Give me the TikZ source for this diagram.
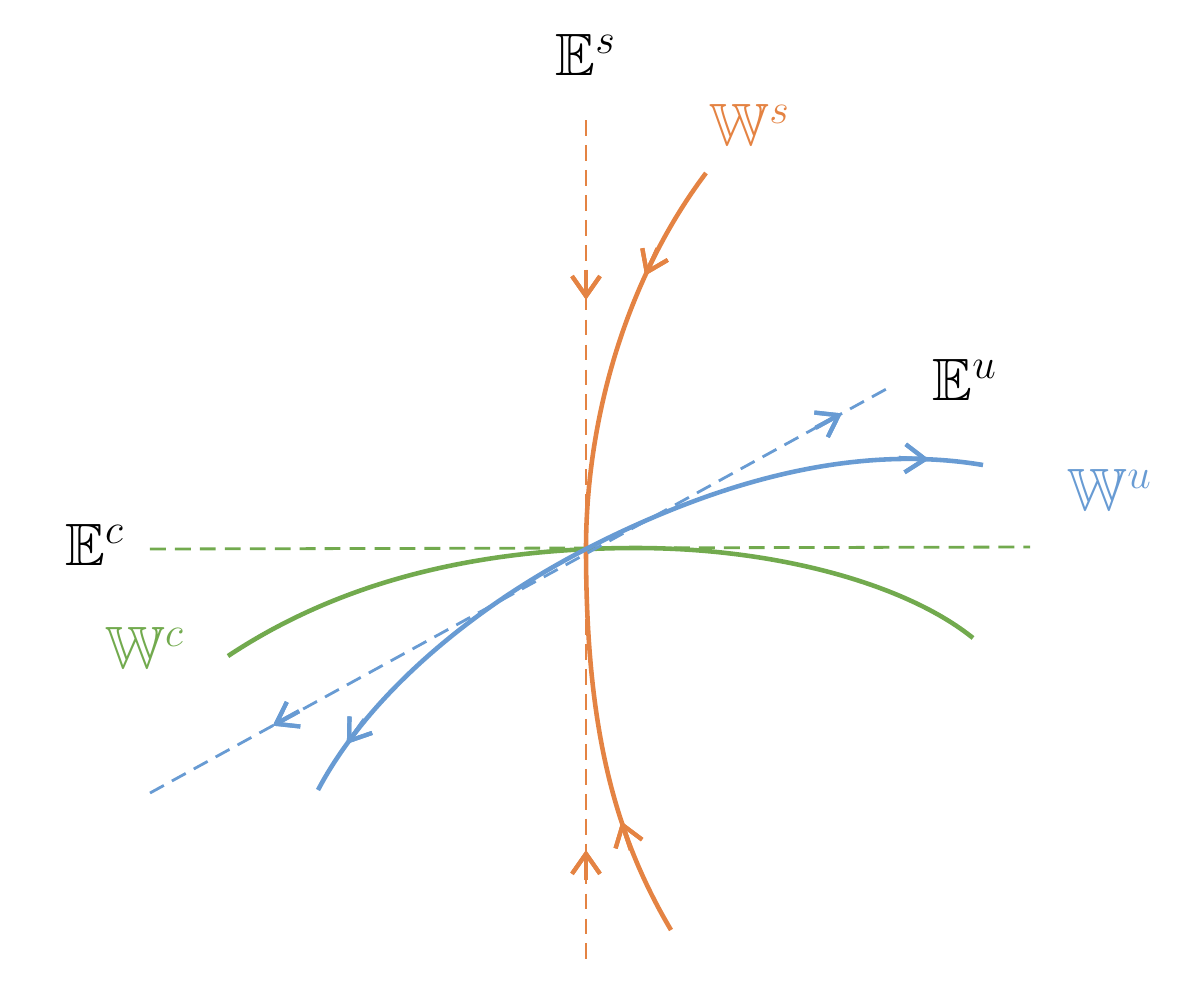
\documentclass[tikz,border=0pt]{standalone}
\usepackage{amssymb}
\usetikzlibrary{arrows.meta,decorations.markings}
\definecolor{sorange}{RGB}{228,131,67}
\definecolor{ublue}{RGB}{104,155,211}
\definecolor{cgreen}{RGB}{114,170,78}
\begin{document}
\begin{tikzpicture}[
    eline/.style={line width=0.8pt,dash pattern=on 4.5pt off 2.6pt},
    wline/.style={line width=1.3pt},
    fwd/.style={postaction={decorate},decoration={markings,
        mark=at position #1 with {\draw[solid,line width=1.2pt,-{Straight Barb[length=2mm,width=2.8mm]}] (-0.3,0) -- (0,0);}}},
    bwd/.style={postaction={decorate},decoration={markings,
        mark=at position #1 with {\draw[solid,line width=1.2pt,-{Straight Barb[length=2mm,width=2.8mm]}] (0.3,0) -- (0,0);}}},
    lbl/.style={font=\fontsize{17}{20}\selectfont}]
    \useasboundingbox (-5.86,-4.55) rectangle (6.16,5.49);
    \coordinate (o) at (0,0);
    % center subspaces
    \draw[eline,cgreen] (-4.36,0) -- (4.44,0.02);
    \draw[wline,cgreen] (-3.58,-1.07) .. controls (-2.6,-0.42) and (-1.3,0.01) .. (0.5,0.01)
        .. controls (1.9,0.01) and (3.2,-0.35) .. (3.87,-0.89);
    % stable subspaces
    \draw[eline,sorange,fwd=0.212,bwd=0.861] (0,4.29) -- (0,-4.19);
    \draw[wline,sorange,fwd=0.15,bwd=0.85] (1.20,3.76) .. controls (0.4,2.7) and (0,1.3) .. (o)
        .. controls (0,-1.7) and (0.25,-2.8) .. (0.85,-3.81);
    % unstable subspaces
    \draw[eline,ublue,bwd=0.166,fwd=0.935] (-4.36,-2.44) -- (3.04,1.62);
    \draw[wline,ublue,bwd=0.07,fwd=0.93] (-2.68,-2.41) .. controls (-2.2,-1.5) and (-1.2,-0.62) .. (o)
        .. controls (1.6,0.82) and (2.9,1.02) .. (3.97,0.84);
    % labels
    \node[lbl] (es) at (0,4.94) {$\mathbb{E}^s$};
    \node[lbl,sorange] (ws) at (1.64,4.24) {$\mathbb{W}^s$};
    \node[lbl] (eu) at (3.79,1.69) {$\mathbb{E}^u$};
    \node[lbl,ublue] (wu) at (5.24,0.59) {$\mathbb{W}^u$};
    \node[lbl] (ec) at (-4.91,0.04) {$\mathbb{E}^c$};
    \node[lbl,cgreen] (wc) at (-4.41,-0.99) {$\mathbb{W}^c$};
\end{tikzpicture}
\end{document}
